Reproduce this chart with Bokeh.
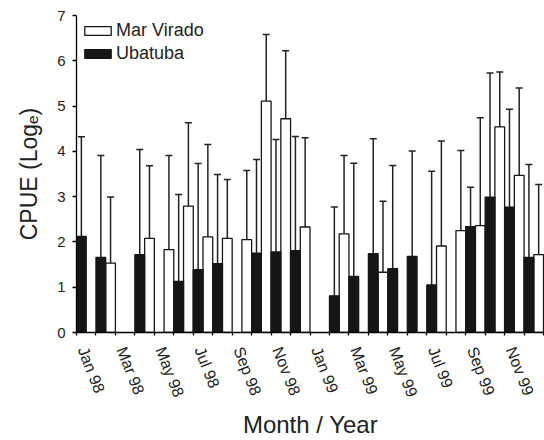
from bokeh.plotting import figure
from bokeh.models import (ColumnDataSource, Range1d, FixedTicker, Whisker, TeeHead,
                          Legend, LegendItem)
from bokeh.embed import file_html
from bokeh.resources import INLINE

months = ["Jan 98", "Feb 98", "Mar 98", "Apr 98", "May 98", "Jun 98",
          "Jul 98", "Aug 98", "Sep 98", "Oct 98", "Nov 98", "Dec 98",
          "Jan 99", "Feb 99", "Mar 99", "Apr 99", "May 99", "Jun 99",
          "Jul 99", "Aug 99", "Sep 99", "Oct 99", "Nov 99", "Dec 99"]

ubatuba_mean = [2.12, 1.66, None, 1.72, None, 1.13, 1.39, 1.52, None, 1.75, 1.78, 1.81,
                None, 0.81, 1.24, 1.74, 1.41, 1.68, 1.05, None, 2.34, 2.99, 2.77, 1.66]
ubatuba_upper = [4.32, 3.91, None, 4.04, None, 3.05, 3.73, 3.49, None, 3.82, 4.26, 4.33,
                 None, 2.77, 3.74, 4.28, 3.69, 4.01, 3.56, None, 3.21, 5.73, 4.93, 3.71]

marvirado_mean = [None, 1.53, None, 2.08, 1.83, 2.79, 2.11, 2.08, 2.05, 5.11, 4.72, 2.33,
                  None, 2.18, None, 1.33, None, None, 1.91, 2.25, 2.36, 4.54, 3.47, 1.72]
marvirado_upper = [None, 2.99, None, 3.68, 3.91, 4.63, 4.15, 3.38, 3.58, 6.58, 6.22, 4.30,
                   None, 3.91, None, 2.90, None, None, 4.23, 4.02, 4.74, 5.75, 5.40, 3.27]

y_ticks = [0, 1, 2, 3, 4, 5, 6, 7]

FONT = "Liberation Sans"


def build(means, uppers, offset):
    xs, tops, ups = [], [], []
    for i, (m, u) in enumerate(zip(means, uppers)):
        if m is None:
            continue
        xs.append(i + offset)
        tops.append(m)
        ups.append(u)
    return ColumnDataSource(dict(x=xs, top=tops, upper=ups))


src_ub = build(ubatuba_mean, ubatuba_upper, 0.25)
src_mv = build(marvirado_mean, marvirado_upper, 0.75)

p = figure(width=544, height=440, output_backend="svg", toolbar_location=None,
           x_range=Range1d(0, 24.05), y_range=Range1d(0, 7),
           min_border_left=76, min_border_right=0, min_border_top=15,
           min_border_bottom=107)
p.outline_line_color = None
p.xgrid.visible = False
p.ygrid.visible = False
p.background_fill_color = "white"
p.border_fill_color = "white"

BLACK = "#161616"
r_mv = p.vbar(x="x", top="top", width=0.5, source=src_mv, fill_color="white",
              line_color=BLACK, line_width=1.3)
r_ub = p.vbar(x="x", top="top", width=0.5, source=src_ub, fill_color=BLACK,
              line_color=BLACK, line_width=1.3)

for src in (src_ub, src_mv):
    w = Whisker(source=src, base="x", lower="top", upper="upper", dimension="height",
                line_color="#222222", line_width=1.5, lower_head=None,
                upper_head=TeeHead(size=7, line_color="#222222", line_width=1.5))
    p.add_layout(w)

# axes
lab_off = 0.3125
lab_ticks = [i + lab_off for i in range(0, 24, 2)]
p.xaxis.ticker = FixedTicker(ticks=lab_ticks, minor_ticks=list(range(25)))
p.xaxis.major_label_overrides = {t: months[i] for t, i in zip(lab_ticks, range(0, 24, 2))}
p.xaxis.major_label_orientation = -1.2
p.xaxis.major_tick_line_color = None
p.xaxis.major_tick_out = 0
p.xaxis.major_tick_in = 0
p.xaxis.minor_tick_line_color = "black"
p.xaxis.minor_tick_line_width = 1.3
p.xaxis.minor_tick_out = 3
p.xaxis.minor_tick_in = 0
p.xaxis.major_label_standoff = 12
p.xaxis.axis_label = "Month / Year"
p.xaxis.axis_label_standoff = 5

p.yaxis.ticker = FixedTicker(ticks=y_ticks)
p.yaxis.minor_tick_line_color = None
p.yaxis.major_tick_out = 4
p.yaxis.major_tick_in = 0
p.yaxis.major_label_standoff = 7
p.yaxis.axis_label = "CPUE (Logₑ)"
p.yaxis.axis_label_standoff = 12

for ax in (p.xaxis[0], p.yaxis[0]):
    ax.axis_line_color = "black"
    ax.axis_line_width = 1.3
    ax.major_tick_line_width = 1.3
    ax.major_label_text_font = FONT
    ax.major_label_text_color = "#222222"
    ax.axis_label_text_font = FONT
    ax.axis_label_text_font_style = "normal"
    ax.axis_label_text_color = "#222222"
p.xaxis.axis_label_text_font_size = "24px"
p.yaxis.axis_label_text_font_size = "23px"
p.xaxis.major_label_text_font_size = "16px"
p.yaxis.major_label_text_font_size = "15px"

legend = Legend(items=[LegendItem(label="Mar Virado", renderers=[r_mv]),
                       LegendItem(label="Ubatuba", renderers=[r_ub])],
                location="top_left", margin=5, padding=10, spacing=2,
                glyph_width=33, glyph_height=11, label_standoff=2,
                label_text_font=FONT, label_text_font_size="18px",
                label_text_color="#222222",
                border_line_color=None, background_fill_alpha=0)
p.add_layout(legend)

open("out.html", "w").write(file_html(p, INLINE))
